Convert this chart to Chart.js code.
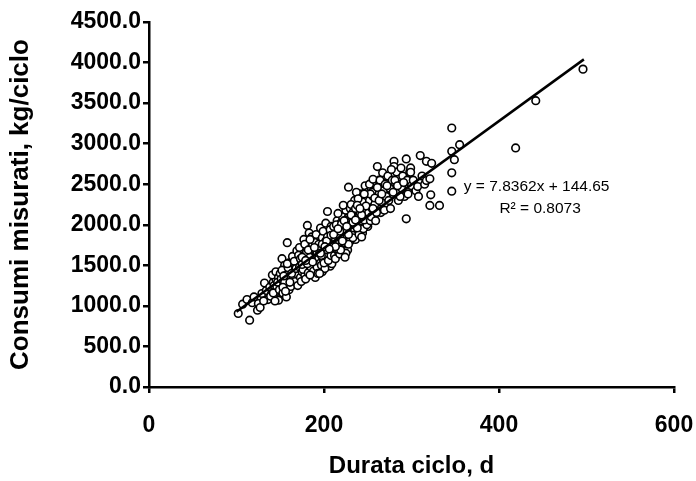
<!DOCTYPE html>
<html>
<head>
<meta charset="utf-8">
<script src="https://cdn.jsdelivr.net/npm/chart.js@4.4.0/dist/chart.umd.min.js"></script>
<style>
  html, body { margin: 0; padding: 0; background: #fff; }
  canvas { display: block; }
</style>
</head>
<body>
<canvas id="graficoConsumi" width="696" height="481"></canvas>
<script>
// durata del ciclo (giorni) e consumi misurati (kg/ciclo), una riga per fascia di durata
const durataCiclo = [
  102, 107, 112, 115, 118, 124, 125, 129, 132, 136, 120, 127, 134, 138, 131,
  140, 142, 144, 145, 146, 148, 141, 143, 147, 149, 145, 139, 150, 148, 144, 146, 142, 150, 147, 149,
  152, 153, 155, 157, 158, 151, 154, 156, 158, 160, 161, 162, 163, 164, 165, 166, 167, 168, 169, 170,
  152, 155, 157, 159, 160, 162, 164, 165, 167, 169, 170, 153, 156, 158, 161, 163, 166, 168, 170, 154,
  171, 178, 186, 181, 172, 173, 174, 175, 176, 177, 178, 179, 180, 181, 182, 183, 184, 185, 186, 187,
  188, 189, 190, 172, 174, 176, 177, 179, 180, 182, 183, 184, 185, 187, 188, 189, 190, 173, 175, 178,
  181, 184, 186, 188, 190,
  191, 192, 193, 194, 195, 196, 197, 198, 199, 200, 201, 202, 203, 204, 205, 206, 207, 208, 209, 210,
  191, 193, 194, 196, 197, 198, 199, 200, 201, 202, 203, 205, 206, 207, 208, 209, 210, 192, 195, 197,
  199, 200, 202, 204, 205, 207, 208, 210, 195, 204,
  211, 212, 213, 214, 215, 216, 217, 218, 219, 220, 221, 222, 223, 224, 225, 226, 227, 228, 228, 229,
  230, 211, 213, 214, 215, 216, 217, 218, 219, 220, 221, 222, 223, 224, 225, 226, 227, 229, 230, 212,
  214, 216, 218, 220, 222, 224, 226, 228, 230, 219,
  231, 232, 233, 234, 235, 236, 237, 238, 239, 240, 241, 242, 243, 244, 245, 246, 247, 248, 249, 250,
  231, 233, 234, 236, 237, 239, 240, 242, 243, 245, 246, 247, 249, 250, 232, 235, 238, 241, 244, 248,
  250, 236, 243, 246, 239,
  251, 252, 253, 254, 255, 256, 257, 258, 259, 260, 261, 262, 263, 264, 265, 266, 267, 268, 269, 270,
  252, 254, 256, 258, 260, 262, 264, 266, 268, 270, 255, 259, 263, 267, 269,
  271, 273, 275, 276, 278, 280, 280, 282, 283, 285, 286, 288, 289, 290, 292, 294, 294, 295, 297, 298,
  299, 299, 272, 274, 277, 279, 281, 284, 287, 291, 296, 300,
  302, 305, 307, 310, 312, 315, 317, 317, 321, 322, 321, 323, 332, 346, 355, 346, 349, 346, 346, 308,
  419, 442, 496,
  175, 182, 187, 193, 198, 203, 208, 213, 218, 223, 228, 233, 238, 243, 248, 253, 258, 263,
  179, 184, 189, 196, 201, 206, 211, 216, 221, 226, 231, 236, 241, 246, 256, 261, 266
];
const consumiMisurati = [
  906, 1021, 1078, 824, 1040, 947, 1029, 1152, 1282, 1078, 1110, 980, 1190, 1230, 1060,
  1150, 1290, 1210, 1330, 1100, 1070, 1380, 1250, 1180, 1310, 1420, 1120, 1260, 1350, 1060, 1240, 1160, 1400, 1290, 1200,
  1582, 1159, 1500, 1110, 1779, 1330, 1260, 1420, 1350, 1200, 1450, 1310, 1520, 1390, 1260, 1480, 1600, 1340, 1420, 1560,
  1440, 1290, 1380, 1470, 1530, 1240, 1610, 1360, 1300, 1680, 1390, 1230, 1180, 1520, 1290, 1400, 1550, 1460, 1250, 1370,
  1623, 1623, 1541, 1992, 1480, 1350, 1560, 1420, 1700, 1500, 1380, 1640, 1470, 1580, 1760, 1450, 1530, 1680, 1390, 1610,
  1820, 1500, 1570, 1720, 1300, 1450, 1820, 1330, 1660, 1410, 1900, 1600, 1480, 1750, 1430, 1680, 1350, 1580, 1510, 1760,
  1520, 1380, 1850, 1560, 1780,
  1640, 1480, 1720, 1590, 1860, 1530, 1680, 1420, 1780, 1620, 1900, 1550, 1730, 2164, 1650, 1820, 1490, 1700, 1950, 1600,
  1880, 1400, 1760, 1960, 1500, 1840, 1580, 1750, 1460, 2020, 1640, 1880, 1560, 1780, 1980, 1520, 1850, 1660, 1700, 1620,
  1920, 1530, 1800, 1690, 1560, 1940, 1620, 1720, 1400, 1850,
  1760, 1620, 1900, 1700, 2050, 1820, 1650, 1960, 1780, 1880, 2100, 1720, 1940, 1800, 2180, 1870, 1690, 2463, 1990, 1830,
  2060, 1980, 1580, 1850, 1760, 2140, 1900, 1640, 2020, 1740, 1860, 2240, 1780, 2000, 1650, 1920, 2080, 1950, 1800, 1840,
  2000, 1700, 1860, 2010, 1920, 1600, 2050, 1760, 2200, 1690,
  2000, 1880, 2150, 1960, 2300, 1820, 2080, 2200, 1940, 2120, 2380, 2000, 2220, 1900, 2100, 2300, 2050, 2420, 2160, 1980,
  2250, 1840, 2100, 2040, 2400, 2100, 1880, 2260, 2050, 1950, 2180, 2480, 2000, 2250, 2090, 2000, 1960, 2150, 2280, 2100,
  2400, 2200, 1850, 2060, 2320,
  2150, 2300, 2050, 2450, 2200, 2350, 2100, 2500, 2280, 2420, 2717, 2200, 2550, 2350, 2150, 2480, 2300, 2600, 2400, 2250,
  2500, 2100, 2560, 2250, 2150, 2450, 2550, 2280, 2420, 2500, 2400, 2050, 2380, 2640, 2180,
  2350, 2600, 2450, 2200, 2550, 2782, 2717, 2400, 2650, 2300, 2500, 2700, 2450, 2600, 2350, 2812, 2074, 2550, 2450, 2650,
  2701, 2647, 2480, 2300, 2680, 2400, 2550, 2480, 2350, 2520, 2380, 2480,
  2550, 2420, 2471, 2853, 2600, 2500, 2782, 2545, 2566, 2369, 2238, 2758, 2238, 3193, 2988, 2905, 2803, 2640, 2414, 2350,
  2947, 3530, 3919,
  1600, 1690, 1540, 1700, 1760, 1800, 1870, 1730, 1920, 2050, 1880, 2030, 2240, 2120, 2230, 2380, 2330, 2300,
  1560, 1820, 1720, 1650, 1730, 1700, 1880, 1950, 1800, 1980, 2120, 2060, 2200, 2380, 2200, 2460, 2380
];

// retta di regressione lineare e suo intervallo
const pendenza = 7.8362;
const intercetta = 144.65;
const r2 = 0.8073;
const estremiRetta = [100, 497];

const tickX = [0, 200, 400, 600];
const tickY = [0, 500, 1000, 1500, 2000, 2500, 3000, 3500, 4000, 4500];

const FONT = '"Liberation Sans", Arial, Helvetica, sans-serif';
const NERO = '#000';

const puntiMisure = durataCiclo.map((d, i) => ({ x: d, y: consumiMisurati[i] }));
const puntiRetta = estremiRetta.map(d => ({ x: d, y: pendenza * d + intercetta }));

// equazione e R² scritti accanto alla retta
const etichettaRetta = {
  id: 'etichettaRetta',
  afterDraw(chart) {
    const { ctx, scales: { x, y } } = chart;
    ctx.save();
    ctx.fillStyle = NERO;
    ctx.font = `15.5px ${FONT}`;
    ctx.textAlign = 'center';
    ctx.textBaseline = 'middle';
    ctx.fillText(`y = ${pendenza}x + ${intercetta}`, x.getPixelForValue(443), y.getPixelForValue(2470));
    ctx.fillText(`R² = ${r2.toFixed(4)}`, x.getPixelForValue(447), y.getPixelForValue(2200));
    ctx.restore();
  }
};

new Chart(document.getElementById('graficoConsumi'), {
  type: 'scatter',
  data: {
    datasets: [
      {
        data: puntiRetta,
        showLine: true,
        borderColor: NERO,
        borderWidth: 2.5,
        pointRadius: 0,
        order: 0
      },
      {
        data: puntiMisure,
        pointRadius: 3.8,
        pointBorderWidth: 1.6,
        pointBorderColor: NERO,
        pointBackgroundColor: '#fff',
        order: 1
      }
    ]
  },
  options: {
    responsive: false,
    animation: false,
    devicePixelRatio: 1,
    layout: { padding: { left: 0, top: 22, right: 22, bottom: 0 } },
    plugins: {
      legend: { display: false },
      tooltip: { enabled: false }
    },
    scales: {
      x: {
        type: 'linear',
        min: 0,
        max: 600,
        afterBuildTicks: s => { s.ticks = tickX.map(v => ({ value: v })); },
        afterFit: s => { s.height = 94; s.paddingLeft = 0; s.paddingRight = 0; },
        border: { color: NERO, width: 2.5 },
        grid: { drawOnChartArea: false, drawTicks: true, tickLength: 6, color: NERO, lineWidth: 2.5 },
        ticks: {
          color: NERO,
          padding: 19,
          maxRotation: 0,
          font: { family: FONT, size: 23, weight: 'bold' }
        },
        title: {
          display: true,
          text: 'Durata ciclo, d',
          color: NERO,
          padding: { top: 0, bottom: 0 },
          font: { family: FONT, size: 24, weight: 'bold' }
        }
      },
      y: {
        type: 'linear',
        min: 0,
        max: 4500,
        afterBuildTicks: s => { s.ticks = tickY.map(v => ({ value: v })); },
        afterFit: s => { s.width = 149; s.paddingTop = 0; s.paddingBottom = 0; },
        border: { color: NERO, width: 2.5 },
        grid: { drawOnChartArea: false, drawTicks: true, tickLength: 6, color: NERO, lineWidth: 2.5 },
        ticks: {
          color: NERO,
          padding: 2,
          callback: v => v.toFixed(1),
          font: { family: FONT, size: 23, weight: 'bold' }
        },
        title: {
          display: true,
          text: 'Consumi misurati, kg/ciclo',
          color: NERO,
          padding: { top: 5, bottom: 0 },
          font: { family: FONT, size: 26, weight: 'bold' }
        }
      }
    }
  },
  plugins: [etichettaRetta]
});
</script>
</body>
</html>
